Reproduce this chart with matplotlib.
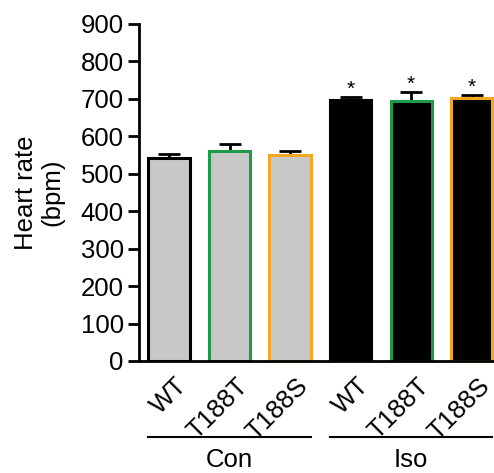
import matplotlib.pyplot as plt
import matplotlib.transforms as mtransforms

plt.rcParams['font.family'] = ['Liberation Sans', 'DejaVu Sans']

# data
labels = ['WT', 'T188T', 'T188S', 'WT', 'T188T', 'T188S']
means = [541, 560, 551, 696, 695, 702]
sems = [13, 19, 10, 9, 24, 9]
fills = ['#c8c8c8', '#c8c8c8', '#c8c8c8', 'black', 'black', 'black']
edges = ['black', '#1f9a48', '#f5a623', 'black', '#1f9a48', '#f5a623']
sig = ['', '', '', '*', '*', '*']
groups = ['Con', 'Iso']

fig = plt.figure(figsize=(4.94, 4.73), dpi=100)
ax = fig.add_axes([0.2814, 0.2368, 0.7186, 0.7125])

x = list(range(len(labels)))
w = 0.68
ax.bar(x, means, width=w, color=fills, edgecolor=edges, linewidth=2.2, zorder=2)
for xi, m, s in zip(x, means, sems):
    ax.errorbar(xi, m, yerr=[[0], [s]], color='black', capsize=8,
                elinewidth=2, capthick=2, zorder=1)
for xi, m, s, t in zip(x, means, sems, sig):
    if t:
        ax.text(xi, m + s - 6, t, ha='center', va='bottom', fontsize=15)

ax.set_xlim(-0.496, 5.37)
ax.set_ylim(0, 900)
ax.set_yticks(range(0, 901, 100))
ax.set_ylabel('Heart rate\n(bpm)', fontsize=18.5, linespacing=1.1, labelpad=12)

ax.set_xticks(x)
ax.set_xticklabels(labels, rotation=45, ha='right', va='top',
                   rotation_mode='anchor', fontsize=18.5)
ax.tick_params(axis='x', length=0, pad=9)
ax.tick_params(axis='y', labelsize=18.5, length=8, width=2, pad=3)
offset = mtransforms.ScaledTranslation(6 / 100, 0, fig.dpi_scale_trans)
for lab in ax.get_xticklabels():
    lab.set_transform(lab.get_transform() + offset)

for sp in ['top', 'right']:
    ax.spines[sp].set_visible(False)
for sp in ['left', 'bottom']:
    ax.spines[sp].set_linewidth(2)

trans = mtransforms.blended_transform_factory(ax.transData, ax.transAxes)
for gi, g in enumerate(groups):
    x0 = gi * 3 - w / 2
    x1 = gi * 3 + 2 + w / 2
    ax.plot([x0, x1], [-0.2255, -0.2255], color='black', lw=1.5,
            transform=trans, clip_on=False)
    ax.text((x0 + x1) / 2, -0.294, g, transform=trans, ha='center',
            va='center', fontsize=18.5)

fig.savefig('out.png', dpi=100)
